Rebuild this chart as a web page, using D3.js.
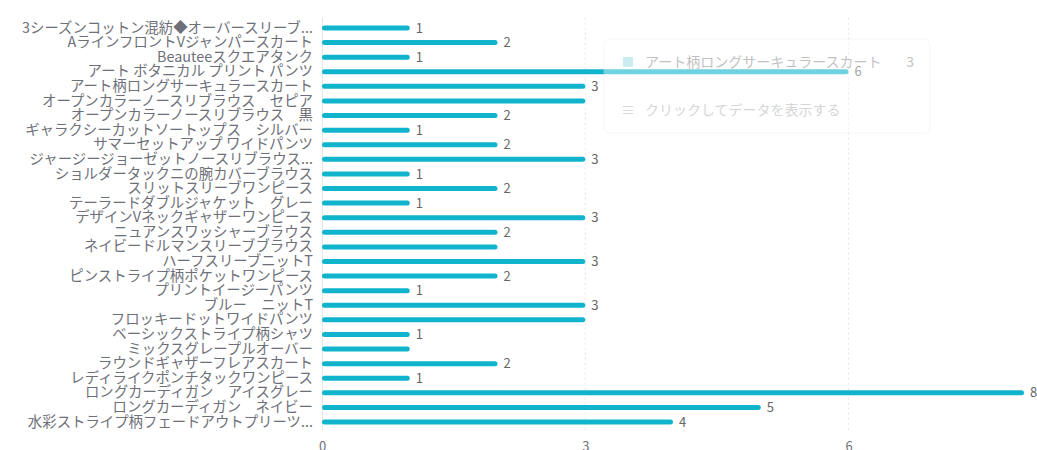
<!DOCTYPE html>
<html><head><meta charset="utf-8">
<script src="https://cdn.jsdelivr.net/npm/d3@7/dist/d3.min.js"></script>
<style>
html,body{margin:0;padding:0;background:#fff;overflow:hidden;}
svg{display:block;font-family:"Noto Sans CJK JP","Noto Sans",sans-serif;}
</style></head><body>
<svg id="c" width="1037" height="450"></svg>
<script>
const categories = [
 "3シーズンコットン混紡◆オーバースリーブ...",
 "AラインフロントVジャンパースカート",
 "Beauteeスクエアタンク",
 "アート ボタニカル プリント パンツ",
 "アート柄ロングサーキュラースカート",
 "オープンカラーノースリブラウス　セピア",
 "オープンカラーノースリブラウス　黒",
 "ギャラクシーカットソートップス　シルバー",
 "サマーセットアップ ワイドパンツ",
 "ジャージージョーゼットノースリブラウス...",
 "ショルダータックニの腕カバーブラウス",
 "スリットスリーブワンピース",
 "テーラードダブルジャケット　グレー",
 "デザインVネックギャザーワンピース",
 "ニュアンスワッシャーブラウス",
 "ネイビードルマンスリーブブラウス",
 "ハーフスリーブニットT",
 "ピンストライプ柄ポケットワンピース",
 "プリントイージーパンツ",
 "ブルー　ニットT",
 "フロッキードットワイドパンツ",
 "ベーシックストライプ柄シャツ",
 "ミックスグレープルオーバー",
 "ラウンドギャザーフレアスカート",
 "レディライクポンチタックワンピース",
 "ロングカーディガン　アイスグレー",
 "ロングカーディガン　ネイビー",
 "水彩ストライプ柄フェードアウトプリーツ..."
];
const values = [1,2,1,6,3,3,2,1,2,3,1,2,1,3,2,2,3,2,1,3,3,1,1,2,1,8,5,4];
const xTicks = [0,3,6];
const xMax = 8;
const tooltipName = "アート柄ロングサーキュラースカート";
const tooltipValue = 3;
const tooltipAction = "クリックしてデータを表示する";

(function(){
const svg = d3.select("#c");
const pL = 322, pR = 1024, pT = 20.7, pB = 429.3;
const x = d3.scaleLinear().domain([0, xMax]).range([pL, pR]);
const y = d3.scaleBand().domain(categories).range([pT, pB]);
const color = "#10b4cc";
const ff = '"Noto Sans CJK JP","Noto Sans",sans-serif';

// grid
svg.append("g").selectAll("line").data(xTicks.filter(d=>d>0)).join("line")
  .attr("x1", d=>x(d)).attr("x2", d=>x(d)).attr("y1", pT-3).attr("y2", pB+1)
  .attr("stroke", "#e0e6f1").attr("stroke-dasharray", "2,3");

// y axis line
svg.append("line").attr("x1", pL+0.5).attr("x2", pL+0.5).attr("y1", pT-3).attr("y2", pB+1)
  .attr("stroke", "#e6e6e6");

// x axis labels
const xAxis = d3.axisBottom(x).tickValues(xTicks).tickSize(0).tickPadding(0);
const gx = svg.append("g").attr("transform", `translate(0,${pB})`).call(xAxis);
gx.select(".domain").remove();
gx.selectAll("text").attr("fill", "#6e7079").attr("font-size", 13)
  .attr("font-family", ff).attr("dy", 22);

// y axis labels
const yAxis = d3.axisLeft(y).tickSize(0).tickPadding(9);
const gy = svg.append("g").attr("transform", `translate(${pL},0)`).call(yAxis);
gy.select(".domain").remove();
gy.selectAll("text").attr("fill", "#6e7079").attr("font-size", 14.4)
  .attr("font-family", ff);

// bars
const bh = 5;
svg.append("g").selectAll("rect").data(values).join("rect")
  .attr("x", x(0)).attr("y", (d,i)=>y(categories[i]) + y.bandwidth()/2 - bh/2)
  .attr("width", d=>x(d)-x(0)).attr("height", bh).attr("rx", bh/2)
  .attr("fill", color);

// value labels with overlap hiding
const lg = svg.append("g");
const shown = [];
values.forEach((v,i)=>{
  const t = lg.append("text").attr("x", x(v)+6).attr("y", y(categories[i]) + y.bandwidth()/2)
    .attr("dy", "0.36em").attr("fill", "#666").attr("font-size", 13).text(v);
  const b = t.node().getBBox();
  const bb = {x:b.x, y:b.y, w:b.width, h:Math.max(b.height, 16)};
  const ov = shown.some(s => !(bb.x+bb.w <= s.x || s.x+s.w <= bb.x || bb.y+bb.h <= s.y || s.y+s.h <= bb.y));
  if (ov) t.remove(); else shown.push(bb);
});

// fading tooltip
const tt = svg.append("g").attr("opacity", 0.4).attr("transform", "translate(604,39)");
tt.append("rect").attr("width", 326).attr("height", 94).attr("rx", 6)
  .attr("fill", "#fff").attr("stroke", "#e8e8e8");
tt.append("rect").attr("x", 19).attr("y", 18).attr("width", 10).attr("height", 10).attr("fill", "#7fd3e0");
tt.append("text").attr("x", 41).attr("y", 23).attr("dy", "0.36em").attr("font-size", 14).attr("fill", "#666").text(tooltipName);
tt.append("text").attr("x", 310).attr("y", 23).attr("dy", "0.36em").attr("text-anchor", "end").attr("font-size", 14).attr("fill", "#666").text(tooltipValue);
tt.append("text").attr("x", 17).attr("y", 71).attr("dy", "0.36em").attr("font-size", 14).attr("fill", "#aaa").text("≡");
tt.append("text").attr("x", 41).attr("y", 71).attr("dy", "0.36em").attr("font-size", 14).attr("fill", "#999").text(tooltipAction);
})();
</script>
</body></html>
